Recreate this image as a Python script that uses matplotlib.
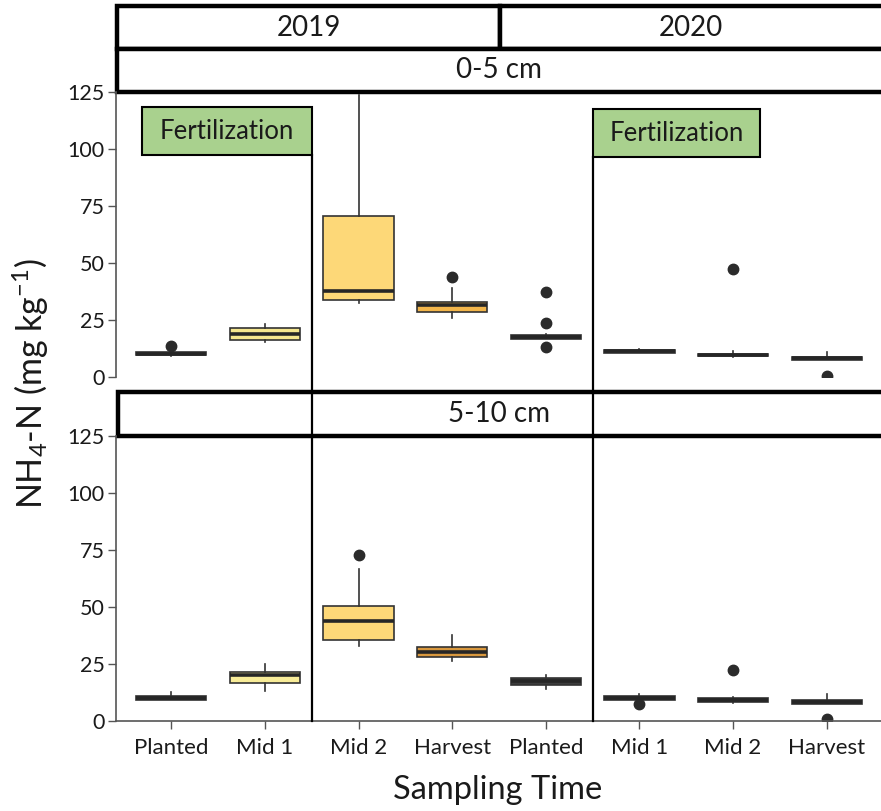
import matplotlib
matplotlib.use("Agg")
import matplotlib.pyplot as plt
from matplotlib.patches import Rectangle

plt.rcParams['font.family'] = ['Lato', 'DejaVu Sans']
plt.rcParams['mathtext.fontset'] = 'custom'
plt.rcParams['mathtext.rm'] = 'Lato'
plt.rcParams['mathtext.it'] = 'Lato:italic'
plt.rcParams['mathtext.bf'] = 'Lato:bold'

# ---------------- data ----------------
categories = ["Planted", "Mid 1", "Mid 2", "Harvest", "Planted", "Mid 1", "Mid 2", "Harvest"]
years = ["2019", "2020"]
depths = ["0-5 cm", "5-10 cm"]

# 0-5 cm
top_med = [10.3, 18.8, 37.7, 31.5, 17.6, 11.2, 9.6, 8.2]
top_q1 = [9.5, 16.4, 33.8, 28.5, 16.7, 10.7, 9.1, 7.5]
top_q3 = [11.0, 21.7, 70.5, 33.0, 18.5, 11.7, 10.2, 8.9]
top_lo = [9.3, 15.4, 32.6, 25.8, 16.5, 10.5, 8.6, 7.3]
top_hi = [11.3, 23.3, 123.5, 38.9, 18.7, 12.3, 11.2, 10.8]
top_fliers = [[13.5], [], [], [44.0], [37.5, 23.5, 13.3], [], [47.5], [0.5]]

# 5-10 cm
bot_med = [10.0, 20.0, 44.0, 30.2, 17.4, 10.0, 9.3, 8.3]
bot_q1 = [9.3, 16.7, 35.7, 27.9, 15.6, 9.3, 8.5, 7.6]
bot_q3 = [10.8, 21.4, 50.3, 32.4, 19.0, 10.8, 10.2, 9.2]
bot_lo = [9.0, 13.3, 33.0, 26.1, 14.1, 9.0, 7.8, 7.3]
bot_hi = [12.6, 24.9, 66.8, 37.8, 20.0, 12.0, 10.5, 11.8]
bot_fliers = [[], [], [72.7], [], [], [7.5], [22.2], [0.8]]

top_colors = ['#3c3c3c', '#f5e68e', '#fdd878', '#f2b54a', '#3c3c3c', '#3c3c3c', '#3c3c3c', '#3c3c3c']
bot_colors = ['#3c3c3c', '#f8ec98', '#fdd878', '#d9983e', '#3c3c3c', '#3c3c3c', '#3c3c3c', '#3c3c3c']

fert_label = "Fertilization"
fert_after = [1.5, 4.5]          # fertilization separators between categories
yticks = [0, 25, 50, 75, 100, 125]

# ---------------- figure ----------------
W, H = 881, 811
fig = plt.figure(figsize=(W / 100, H / 100), dpi=100)


def fr(x0, y0, x1, y1):
    return [x0 / W, 1 - y1 / H, (x1 - x0) / W, (y1 - y0) / H]


def strip(x0, y0, x1, y1, text):
    r = Rectangle((x0 / W, 1 - y1 / H), (x1 - x0) / W, (y1 - y0) / H,
                  transform=fig.transFigure, facecolor='white',
                  edgecolor='black', linewidth=3.2, zorder=-1)
    fig.add_artist(r)
    xe = min(x1, W)
    fig.text((x0 + xe) / 2 / W, 1 - (y0 + y1) / 2 / H, text,
             ha='center', va='center', fontsize=20, color='#1a1a1a')


strip(117, 6, 500, 49, years[0])
strip(500, 6, 895, 49, years[1])
strip(117, 49, 895, 92, depths[0])
strip(118, 392, 895, 436, depths[1])

ax_top = fig.add_axes(fr(116, 92, 881, 377))
ax_bot = fig.add_axes(fr(116, 436, 881, 721))

edge = '#333333'


def draw(ax, med, q1, q3, lo, hi, fl, colors):
    stats = []
    for i in range(len(categories)):
        stats.append(dict(med=med[i], q1=q1[i], q3=q3[i], whislo=lo[i],
                          whishi=hi[i], fliers=fl[i], label=categories[i]))
    bp = ax.bxp(stats, positions=range(len(categories)), widths=0.75,
                patch_artist=True, showcaps=False,
                boxprops=dict(edgecolor=edge, linewidth=1.2),
                medianprops=dict(color='#262626', linewidth=2.6),
                whiskerprops=dict(color=edge, linewidth=1.2),
                flierprops=dict(marker='o', markerfacecolor='#2b2b2b',
                                markeredgecolor='#2b2b2b', markersize=7.5))
    for b, c in zip(bp['boxes'], colors):
        b.set_facecolor(c)
    ax.set_xlim(-0.59, 7.58)
    ax.set_ylim(0, 125)
    ax.set_yticks(yticks)
    ax.set_facecolor('none')
    for s in ['top', 'right']:
        ax.spines[s].set_visible(False)
    ax.spines['left'].set_color('#555555')
    ax.spines['left'].set_linewidth(1.2)
    ax.spines['bottom'].set_color('#555555')
    ax.spines['bottom'].set_linewidth(1.2)
    ax.tick_params(axis='both', colors='#555555', length=6, width=1.0,
                   labelsize=15.5, labelcolor='#1a1a1a', pad=2)


draw(ax_top, top_med, top_q1, top_q3, top_lo, top_hi, top_fliers, top_colors)
draw(ax_bot, bot_med, bot_q1, bot_q3, bot_lo, bot_hi, bot_fliers, bot_colors)

ax_top.spines['bottom'].set_visible(False)
ax_top.tick_params(axis='x', bottom=False, labelbottom=False)
ax_bot.set_xticks(range(len(categories)))
ax_bot.set_xticklabels(categories, fontsize=16)
ax_bot.tick_params(axis='x', pad=6)

# fertilization boxes and separators
fert_boxes = [(-0.31, 1.5), (4.5, 6.29)]
fert_ybot = [97.2, 96.4]
fert_ytop = [118.4, 117.5]
for (x0, x1), yb, yt in zip(fert_boxes, fert_ybot, fert_ytop):
    ax_top.add_patch(Rectangle((x0, yb), x1 - x0, yt - yb, facecolor='#a9d18e',
                               edgecolor='black', linewidth=1.5, zorder=5,
                               clip_on=False))
    ax_top.text((x0 + x1) / 2, (yb + yt) / 2, fert_label, ha='center',
                va='center', fontsize=18.5, color='#1a1a1a', zorder=6)

gap = (436 - 377) / (377 - 92)
for xs, yb in zip(fert_after, fert_ybot):
    ax_top.axvline(xs, ymin=-gap, ymax=yb / 125, color='black', linewidth=1.6,
                   clip_on=False, zorder=4)
    ax_bot.axvline(xs, ymin=0, ymax=1, color='black', linewidth=1.6,
                   clip_on=False, zorder=4)

fig.text(31 / W, 1 - 384 / H, r'NH$_4$-N (mg kg$^{-1}$)', rotation=90,
         ha='center', va='center', fontsize=24.5, color='#1a1a1a')
fig.text(498 / W, 1 - 790 / H, 'Sampling Time', ha='center', va='center',
         fontsize=23.5, color='#1a1a1a')

fig.savefig('out.png', dpi=100)
